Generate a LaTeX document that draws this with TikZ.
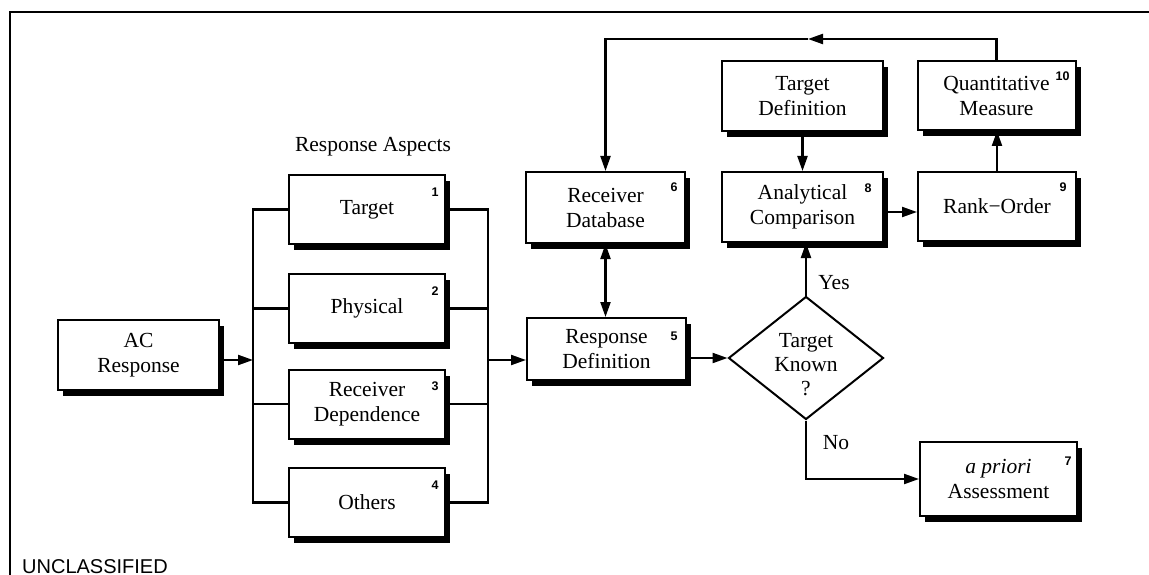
\documentclass[tikz,border=0pt]{standalone}
\usepackage{fontspec}
\setmainfont{Liberation Serif}
\newfontfamily\numfont{Liberation Sans}
\usetikzlibrary{arrows.meta,shadows,shapes.geometric,calc}
\begin{document}
\begin{tikzpicture}[x=1pt,y=-1pt,
  box/.style={draw, fill=white, line width=2pt, rectangle, align=center,
    minimum width=158pt, minimum height=69pt, inner sep=0pt,
    font=\fontsize{21.5}{25}\selectfont,
    drop shadow={shadow xshift=5pt,shadow yshift=-6pt,opacity=1,fill=black}},
  num/.style={font=\numfont\bfseries\fontsize{12.5}{14}\selectfont, inner sep=0pt},
  lbl/.style={font=\fontsize{21.5}{25}\selectfont, inner sep=0pt},
  conn/.style={line width=2.2pt},
  arr/.style={conn,-{Triangle[length=15pt,width=10pt]}},
  arrb/.style={conn,{Triangle[length=15pt,width=10pt]}-{Triangle[length=15pt,width=10pt]}}]
\useasboundingbox (0,0) rectangle (1149,575);
\draw[line width=2.5pt] (10,577) -- (10,12) -- (1150,12);

% boxes
\node[box, minimum width=161pt, minimum height=70pt] (ac) at (138.5,355) {AC\\Response};
\node[box, minimum width=156pt] (t1) at (367,209.5) {Target};
\node[box, minimum width=156pt] (p2) at (367,308.5) {Physical};
\node[box, minimum width=156pt] (r3) at (367,404) {Receiver\\Dependence};
\node[box, minimum width=156pt] (o4) at (367,502.5) {Others};
\node[box, minimum width=159pt, minimum height=62pt] (rd5) at (606.5,349) {Response\\Definition};
\node[box, minimum width=159pt, minimum height=71pt] (db6) at (605.5,207.5) {Receiver\\Database};
\node[box, minimum width=161pt, minimum height=70pt] (td) at (802.5,96) {Target\\Definition};
\node[box, minimum width=161pt, minimum height=70pt] (an8) at (802.5,207) {Analytical\\Comparison};
\node[box] (rk9) at (997,206.5) {Rank−Order};
\node[box] (qm10) at (996.5,95.5) {Quantitative\\Measure};
\node[box, minimum width=157pt, minimum height=74pt] (as7) at (998.5,479) {\textit{a priori}\\Assessment};
\node[diamond, draw, line width=2pt, aspect=1.26, inner sep=0pt,
  minimum width=155pt, minimum height=123pt, font=\fontsize{21.5}{24}\selectfont] (dk) at (806,358)
  {\raisebox{-9pt}[\height][\depth]{\begin{tabular}{@{}c@{}}Target\\Known\\?\end{tabular}}};

% numbers
\node[num] (n1) at ($(t1.north east)+(-11,18)$) {1};
\node[num] (n2) at ($(p2.north east)+(-11,18)$) {2};
\node[num] (n3) at ($(r3.north east)+(-11,18)$) {3};
\node[num] (n4) at ($(o4.north east)+(-11,18)$) {4};
\node[num] (n5) at ($(rd5.north east)+(-13,19)$) {5};
\node[num] (n6) at ($(db6.north east)+(-12,16)$) {6};
\node[num] (n8) at ($(an8.north east)+(-16,17)$) {8};
\node[num] (n9) at ($(rk9.north east)+(-14,16)$) {9};
\node[num] (n10) at ($(qm10.north east)+(-14,16)$) {10};
\node[num] (n7) at ($(as7.north east)+(-10,20)$) {7};

% labels
\node[lbl, anchor=base] (ra) at (373,152) {Response Aspects};
\node[lbl] (yes) at (834,283) {Yes};
\node[lbl] (no) at (836,443) {No};
\node[font=\numfont\fontsize{20}{24}\selectfont, anchor=base west, inner sep=0pt] (uc) at (22,573) {UNCLASSIFIED};

% buses
\coordinate (lb) at (253,360);
\coordinate (rb) at (488,360);
\draw[conn] (t1.west) -| (o4.west -| lb) -- (o4.west);
\draw[conn] (p2.west) -- (p2.west -| lb);
\draw[conn] (r3.west) -- (r3.west -| lb);
\draw[conn] (t1.east) -| (o4.east -| rb) -- (o4.east);
\draw[conn] (p2.east) -- (p2.east -| rb);
\draw[conn] (r3.east) -- (r3.east -| rb);
\draw[arr] (ac.east |- lb) -- (lb);
\draw[arr] (rb) -- (rb -| rd5.west);

% connectors
\draw[arr] (rd5.east |- dk.west) -- (dk.west);
\draw[arrb] (db6.south) -- (db6.south |- rd5.north);
\draw[arr] (td.south) -- (an8.north);
\draw[arr] (dk.north) -- (dk.north |- an8.south);
\draw[arr] ([yshift=-5pt]an8.east) -- ([yshift=-5pt]an8.east -| rk9.west);
\draw[arr] (rk9.north) -- (rk9.north |- qm10.south);
\draw[arr] (dk.south) |- (as7.west);
\coordinate (fbtip) at (808,39);
\draw[arr] (qm10.north) |- (fbtip);
\draw[arr] (fbtip) -| (db6.north);
\end{tikzpicture}
\end{document}
